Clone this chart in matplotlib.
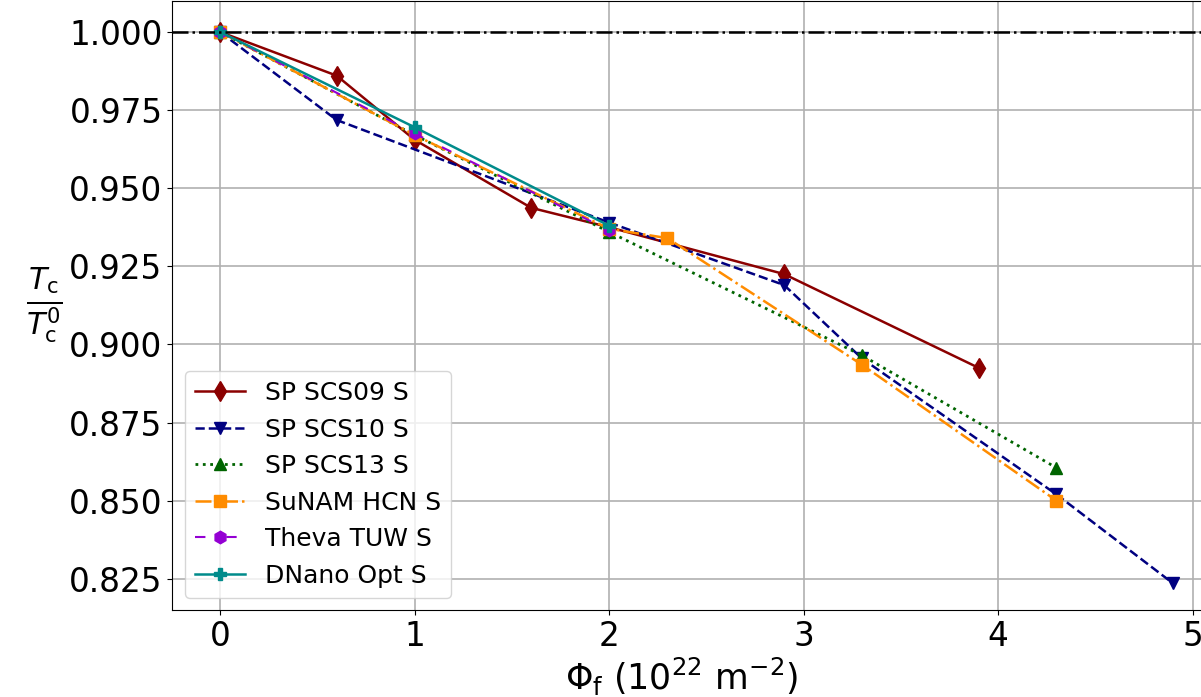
import matplotlib
matplotlib.use('Agg')
import matplotlib.pyplot as plt

# fluence (1e22 m^-2) and normalised Tc for each tape
phi_scs09 = [0, 0.6, 1.0, 1.6, 2.0, 2.9, 3.9]
tc_scs09 = [1.0, 0.986, 0.9655, 0.9437, 0.9375, 0.9225, 0.8925]

phi_scs10 = [0, 0.6, 2.0, 2.9, 3.3, 4.3, 4.9]
tc_scs10 = [1.0, 0.9718, 0.939, 0.919, 0.8955, 0.852, 0.8235]

phi_scs13 = [0, 1.0, 2.0, 3.3, 4.3]
tc_scs13 = [1.0, 0.967, 0.936, 0.8965, 0.8605]

phi_sunam = [0, 1.0, 2.0, 2.3, 3.3, 4.3]
tc_sunam = [1.0, 0.967, 0.937, 0.934, 0.8935, 0.850]

phi_theva = [0, 1.0, 2.0]
tc_theva = [1.0, 0.9675, 0.9365]

phi_dnano = [0, 1.0, 2.0]
tc_dnano = [1.0, 0.9695, 0.938]

fig = plt.figure(figsize=(12.01, 6.97), dpi=100)
ax = fig.add_axes([0.1435, 0.1248, 0.873, 0.8738])

ax.axhline(1.0, color='black', linestyle='-.', linewidth=1.8, zorder=2.5)

ax.plot(phi_scs09, tc_scs09, color='darkred', linestyle='-', marker='d',
        markersize=10, linewidth=1.8, label='SP SCS09 S')
ax.plot(phi_scs10, tc_scs10, color='navy', linestyle='--', marker='v',
        markersize=8.5, linewidth=1.8, label='SP SCS10 S')
ax.plot(phi_scs13, tc_scs13, color='darkgreen', linestyle=':', marker='^',
        markersize=8.5, linewidth=2, label='SP SCS13 S')
ax.plot(phi_sunam, tc_sunam, color='darkorange', linestyle='-.', marker='s',
        markersize=9, linewidth=1.8, label='SuNAM HCN S')
ax.plot(phi_theva, tc_theva, color='darkviolet', linestyle=(0, (5, 10)), marker='h',
        markersize=9, linewidth=1.5, label='Theva TUW S')
ax.plot(phi_dnano, tc_dnano, color='darkcyan', linestyle='-', marker='P',
        markersize=8, linewidth=1.8, label='DNano Opt S')

ax.set_xlim(-0.245, 5.145)
ax.set_ylim(0.815, 1.0099)
ax.set_xticks([0, 1, 2, 3, 4, 5])
ax.set_yticks([0.825, 0.85, 0.875, 0.9, 0.925, 0.95, 0.975, 1.0])
ax.yaxis.set_major_formatter(matplotlib.ticker.FormatStrFormatter('%.3f'))
ax.tick_params(labelsize=23.5)
ax.grid(True, color='#b0b0b0', linewidth=1.2)

ax.set_xlabel(r'$\Phi_\mathrm{f}$ ($10^{22}$ m$^{-2}$)', fontsize=25)
ax.xaxis.set_label_coords(0.486, -0.075)
ax.set_ylabel(r'$\frac{T_\mathrm{c}}{T_\mathrm{c}^0}$', fontsize=31, rotation=0,
              labelpad=18, va='center')

ax.legend(loc='lower left', fontsize=18)

plt.savefig('out.png', dpi=100)
plt.close()
